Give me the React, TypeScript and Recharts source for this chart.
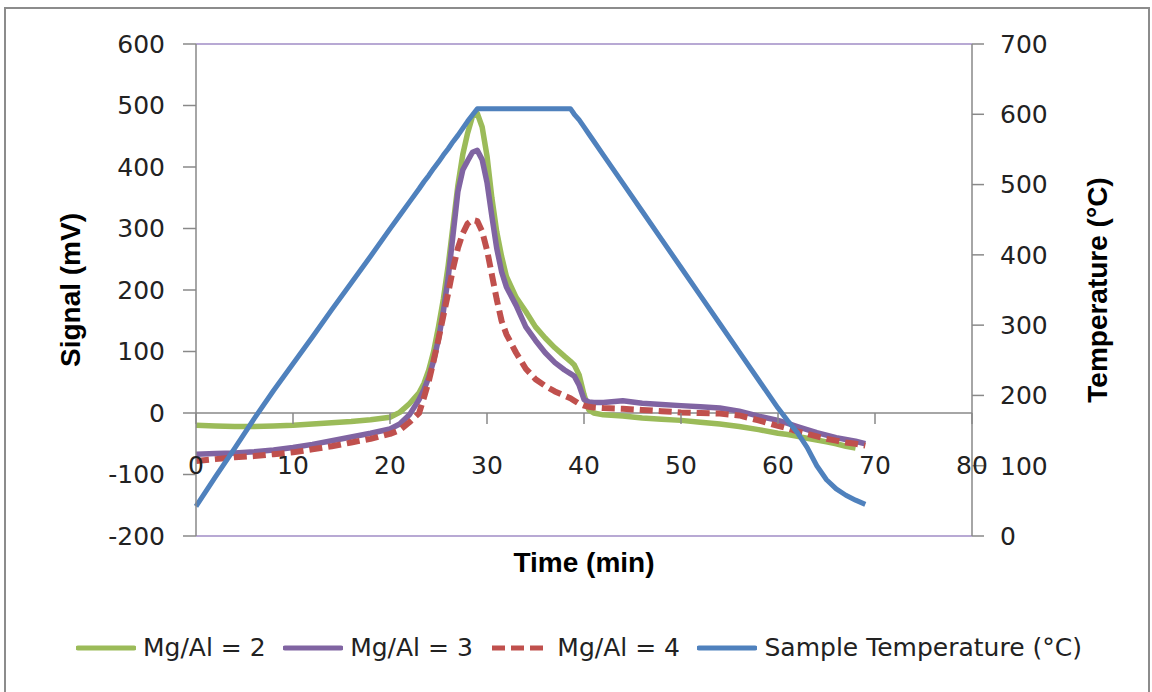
import {
  ComposedChart,
  Line,
  XAxis,
  YAxis,
  ReferenceLine,
  Legend,
  Label,
} from "recharts";

// time (min) and readings taken off the plot
const time = [
  0, 2, 4, 6, 8, 10, 12, 14, 16, 18, 20, 21, 22, 23, 23.5, 24, 24.5, 25, 25.5,
  26, 26.5, 27, 27.5, 28, 28.5, 29, 29.5, 30, 30.5, 31, 31.5, 32, 33, 34, 35,
  36, 37, 38, 38.6, 39, 39.5, 40, 40.5, 41, 42, 44, 46, 48, 50, 52, 54, 56, 58,
  60, 61, 62, 63, 64, 65, 66, 67, 68, 69,
];

const mgAl2 = [
  -20, -21, -22, -22, -21, -20, -18, -16, -14, -11, -7, 1, 15, 33, 48, 70, 100,
  140, 185, 240, 305, 370, 420, 455, 482, 487, 465, 418, 350, 295, 255, 222,
  188, 165, 140, 122, 106, 92, 84, 78, 62, 30, 5, 0, -3, -5, -8, -10, -12, -15,
  -18, -22, -27, -33, -35, -38, -41, -44, -47, -50, -54, -57, null,
];

const mgAl3 = [
  -67, -66, -65, -63, -60, -56, -51, -45, -39, -33, -26, -18, -3, 22, 38, 58,
  85, 120, 165, 220, 290, 360, 395, 410, 424, 427, 412, 375, 320, 268, 230, 205,
  175, 140, 118, 98, 82, 70, 64, 60, 45, 22, 18, 17, 17, 20, 16, 14, 12, 10, 8,
  3, -5, -12, -17, -22, -27, -32, -36, -40, -43, -46, -50,
];

const mgAl4 = [
  -78, -75, -72, -70, -67, -64, -59, -54, -48, -42, -34, -28, -15, 0, 25, 52,
  85, 120, 158, 195, 235, 268, 292, 308, 314, 312, 295, 265, 225, 185, 150, 128,
  98, 72, 55, 44, 35, 28, 24, 20, 15, 12, 10, 9, 8, 7, 5, 3, 1, 0, -1, -4, -12,
  -21, -25, -30, -34, -38, -42, -45, -48, -50, -53,
];

const sampleTemp = [
  42, 84, 125, 167, 207, 245, 283, 322, 360, 398, 437, 456, 475, 494, 504, 513,
  523, 532, 542, 551, 561, 570, 580, 590, 599, 608, 608, 608, 608, 608, 608,
  608, 608, 608, 608, 608, 608, 608, 608, 600, 592, 582, 572, 562, 542, 502,
  462, 422, 382, 342, 302, 262, 222, 182, 164, 147, 126, 100, 80, 67, 58, 51,
  45,
];

const timeTicks = [0, 10, 20, 30, 40, 50, 60, 70, 80];
const signalTicks = [-200, -100, 0, 100, 200, 300, 400, 500, 600];
const tempTicks = [0, 100, 200, 300, 400, 500, 600, 700];

const series = [
  { key: "mg2", name: "Mg/Al = 2", color: "#9bbb59", dash: undefined, axis: "left", width: 5.5 },
  { key: "mg3", name: "Mg/Al = 3", color: "#8064a2", dash: undefined, axis: "left", width: 5.5 },
  { key: "mg4", name: "Mg/Al = 4", color: "#c0504d", dash: "13 6", axis: "left", width: 6 },
  { key: "temp", name: "Sample Temperature (°C)", color: "#4f81bd", dash: undefined, axis: "right", width: 5 },
];

const data = time.map((t, i) => ({
  t,
  mg2: mgAl2[i],
  mg3: mgAl3[i],
  mg4: mgAl4[i],
  temp: sampleTemp[i],
}));

const W = 1152;
const H = 692;
const MARGIN = { top: 44, right: 50, bottom: 116, left: 66 };
const AXIS_W = 130;
const XAXIS_H = 40;
const PLOT_H = H - MARGIN.top - MARGIN.bottom - XAXIS_H;
const SIG_MIN = -200;
const SIG_MAX = 600;
const ZERO_Y = MARGIN.top + (PLOT_H * SIG_MAX) / (SIG_MAX - SIG_MIN);

const AXIS_GRAY = "#898989";
const TEXT = "#222";
const TICK_FONT = "'DejaVu Sans', sans-serif";
const TITLE_FONT = "'Liberation Sans', Arial, sans-serif";

// x axis sits on signal = 0, labels hang well below it
const XTick = (props: any) => {
  const { x, payload } = props;
  return (
    <g>
      <line x1={x} y1={ZERO_Y} x2={x} y2={ZERO_Y + 11} stroke={AXIS_GRAY} strokeWidth={1.5} />
      <text
        x={x}
        y={ZERO_Y + 52}
        textAnchor="middle"
        dominantBaseline="central"
        fill={TEXT}
        fontSize={25}
        fontFamily={TICK_FONT}
      >
        {payload.value}
      </text>
    </g>
  );
};

const VerticalTitle = ({ viewBox, text, dx }: any) => {
  const cx = viewBox.x + dx;
  const cy = viewBox.y + viewBox.height / 2;
  return (
    <text
      x={cx}
      y={cy}
      transform={`rotate(-90 ${cx} ${cy})`}
      textAnchor="middle"
      dominantBaseline="central"
      fill="#000"
      fontSize={28}
      fontWeight="bold"
      fontFamily={TITLE_FONT}
    >
      {text}
    </text>
  );
};

const LegendContent = () => (
  <div style={{ display: "flex", alignItems: "center", height: 30 }}>
    {series.map((s) => (
      <div key={s.key} style={{ display: "flex", alignItems: "center", marginRight: 17.5 }}>
        <svg width={60} height={10}>
          <line
            x1={2}
            y1={5}
            x2={58}
            y2={5}
            stroke={s.color}
            strokeWidth={5}
            strokeDasharray={s.dash}
            strokeLinecap={s.dash ? "butt" : "round"}
          />
        </svg>
        <span
          style={{
            marginLeft: 7,
            fontFamily: TICK_FONT,
            fontSize: 25,
            color: TEXT,
            whiteSpace: "nowrap",
            lineHeight: "30px",
          }}
        >
          {s.name}
        </span>
      </div>
    ))}
  </div>
);

export default function App() {
  return (
    <div style={{ position: "fixed", left: 0, top: 0, width: W, height: H, background: "#fff", overflow: "hidden" }}>
      <div
        style={{
          position: "absolute",
          left: 4,
          top: 7,
          width: 1142,
          height: 700,
          border: "2px solid #8c8c8c",
        }}
      />
      <div style={{ position: "absolute", left: 0, top: 0 }}>
        <ComposedChart width={W} height={H} data={data} margin={MARGIN}>
          <XAxis
            dataKey="t"
            type="number"
            domain={[0, 80]}
            ticks={timeTicks}
            interval={0}
            axisLine={false}
            tickLine={false}
            tick={<XTick />}
            height={XAXIS_H}
          >
            <Label
              value="Time (min)"
              position="insideBottom"
              offset={4}
              fill="#000"
              fontSize={28}
              fontWeight="bold"
              fontFamily={TITLE_FONT}
            />
          </XAxis>
          <YAxis
            yAxisId="left"
            domain={[SIG_MIN, SIG_MAX]}
            ticks={signalTicks}
            interval={0}
            width={AXIS_W}
            tickSize={13}
            tickMargin={18}
            axisLine={{ stroke: AXIS_GRAY, strokeWidth: 1.5 }}
            tickLine={{ stroke: AXIS_GRAY, strokeWidth: 1.5 }}
            tick={{ fill: TEXT, fontSize: 25, fontFamily: TICK_FONT }}
          >
            <Label content={(p: any) => <VerticalTitle {...p} text="Signal (mV)" dx={4} />} />
          </YAxis>
          <YAxis
            yAxisId="right"
            orientation="right"
            domain={[0, 700]}
            ticks={tempTicks}
            interval={0}
            width={AXIS_W}
            tickSize={12}
            tickMargin={16}
            axisLine={{ stroke: AXIS_GRAY, strokeWidth: 1.5 }}
            tickLine={{ stroke: AXIS_GRAY, strokeWidth: 1.5 }}
            tick={{ fill: TEXT, fontSize: 25, fontFamily: TICK_FONT }}
          >
            <Label content={(p: any) => <VerticalTitle {...p} text="Temperature (°C)" dx={125} />} />
          </YAxis>

          <ReferenceLine yAxisId="left" y={SIG_MAX} stroke="#a08cc6" strokeWidth={1.5} />
          <ReferenceLine yAxisId="left" y={SIG_MIN} stroke="#a08cc6" strokeWidth={1.5} />
          <ReferenceLine yAxisId="left" y={0} stroke={AXIS_GRAY} strokeWidth={1.5} />

          {series.map((s) => (
            <Line
              key={s.key}
              yAxisId={s.axis}
              dataKey={s.key}
              name={s.name}
              type="linear"
              stroke={s.color}
              strokeWidth={s.width}
              strokeDasharray={s.dash}
              strokeLinejoin="round"
              dot={false}
              activeDot={false}
              connectNulls={false}
              isAnimationActive={false}
            />
          ))}

          <Legend
            layout="horizontal"
            verticalAlign="middle"
            align="center"
            wrapperStyle={{ left: 76, top: 633, width: 1070, height: 30 }}
            content={<LegendContent />}
          />
        </ComposedChart>
      </div>
    </div>
  );
}
